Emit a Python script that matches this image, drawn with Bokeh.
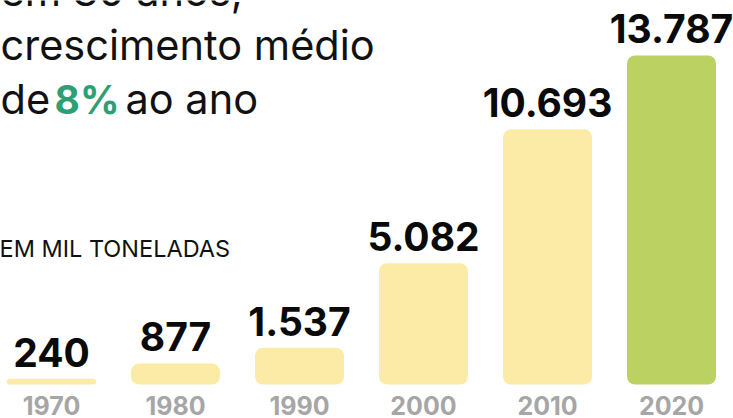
from bokeh.plotting import figure
from bokeh.models import Label, ColumnDataSource, Range1d
from bokeh.core.properties import value
from bokeh.embed import file_html
from bokeh.resources import INLINE

# ---- data ----
years = ["1970", "1980", "1990", "2000", "2010", "2020"]
values = [240, 877, 1537, 5082, 10693, 13787]
value_labels = ["240", "877", "1.537", "5.082", "10.693", "13.787"]
bar_colors = ["#FBEBA6", "#FBEBA6", "#FBEBA6", "#FBEBA6", "#FBEBA6", "#BBD262"]
title_lines = ["em 30 anos,", "crescimento médio"]
title_parts = ["de", "8%", "ao ano"]
unit_label = "EM MIL TONELADAS"

W, H = 733, 418
FONT = "Inter"
SHIFT = 0.30   # empirical correction (em) for baseline placement of glyph text
LSHIFT = 0.40  # same for annotation labels

idx = list(range(len(years)))
src = ColumnDataSource(dict(x=idx, top=values, label=value_labels,
                            year=years, color=bar_colors))

step = 124.0            # px between bar centres
first_c = 51.0          # px of first bar centre
px_per_unit = 329.0 / 13787.0
base_px = 384.0         # px from top of bars' baseline

p = figure(width=W, height=H, output_backend="svg", toolbar_location=None,
           x_range=Range1d(-first_c / step, (W - first_c) / step),
           y_range=Range1d(-(H - base_px) / px_per_unit, base_px / px_per_unit),
           min_border=0, outline_line_color=None, background_fill_color="white",
           border_fill_color="white")
p.axis.visible = False
p.grid.visible = False

p.vbar(x="x", top="top", bottom=0, width=89.0 / step, fill_color="color",
       line_color=None, border_radius=8, source=src)

VAL_FS = 39
p.text(x="x", y="top", text="label", source=src, y_offset=-(15 + SHIFT * VAL_FS),
       text_align="center", text_baseline="alphabetic",
       text_font=value(FONT), text_font_style="bold", text_font_size=f"{VAL_FS}px",
       text_color="#0A0A0A")

YR_FS = 25
p.text(x="x", y=0, text="year", source=src, y_offset=28 - SHIFT * YR_FS,
       text_align="center", text_baseline="alphabetic",
       text_font=value(FONT), text_font_style="bold", text_font_size=f"{YR_FS}px",
       text_color="#A6A6A6")


def label(x, baseline, text, fs, bold=False, color="#111111"):
    p.add_layout(Label(x=x, y=H - (baseline - LSHIFT * fs), x_units="screen", y_units="screen",
                       text=text, text_font=FONT, text_font_size=f"{fs}px",
                       text_font_style="bold" if bold else "normal",
                       text_baseline="alphabetic", text_color=color))


TFS = 41.5
label(0, 7, title_lines[0], TFS)
label(0, 61, title_lines[1], TFS)
label(0, 115, title_parts[0], TFS)
label(54, 115, title_parts[1], 39, bold=True, color="#2E9E74")
label(125, 115, title_parts[2], TFS)
label(-1, 257, unit_label, 23.5)

open("out.html", "w").write(file_html(p, INLINE))
